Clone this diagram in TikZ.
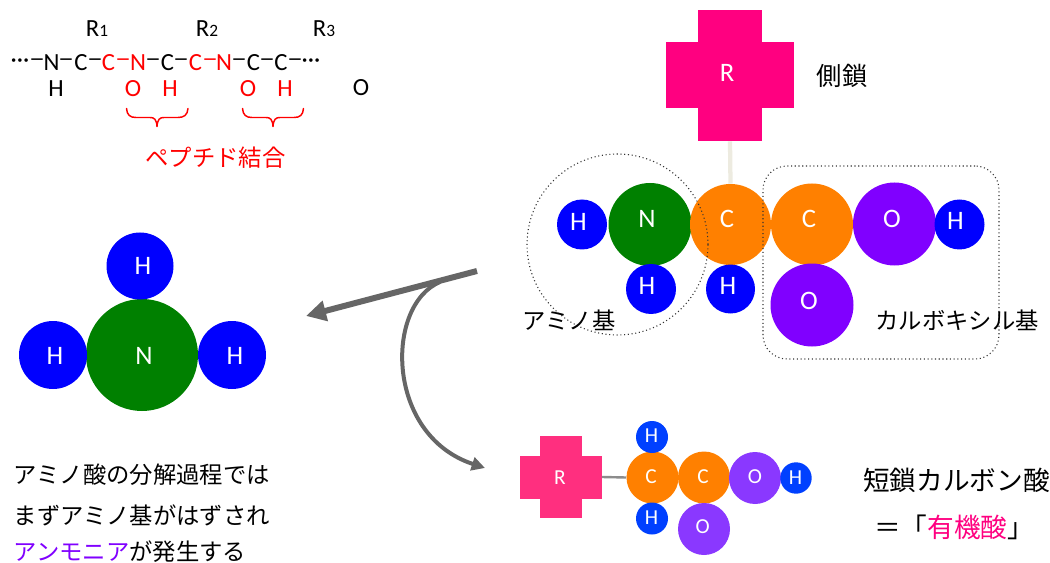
\documentclass[tikz,border=0pt]{standalone}
\usepackage{fontspec}
\usepackage{graphicx}
\setmainfont{Carlito}
\newfontfamily\cjk{Noto Sans CJK JP}
\usetikzlibrary{arrows.meta}
\definecolor{cmag}{HTML}{FF0080}
\definecolor{cmagb}{HTML}{FF2F7F}
\definecolor{corg}{HTML}{FF8000}
\definecolor{cgrn}{HTML}{008000}
\definecolor{cblu}{HTML}{0000FF}
\definecolor{cblub}{HTML}{0040FF}
\definecolor{cpur}{HTML}{8000FF}
\definecolor{cpurb}{HTML}{8A38FF}
\definecolor{cstem}{HTML}{EDEBE0}
\definecolor{carrow}{HTML}{666666}
\newcommand\fsz[1]{\fontsize{#1pt}{#1pt}\selectfont}
\newcommand\atom[8]{%
  \node[atomdisc,fill=#5,minimum size=1.5*#4 pt] (#1) at (#2,#3) {};
  \node[atomlabel] (#1t) at (#6,#7) {#8};}
\newcommand\lng{\makebox[5pt][c]{\raisebox{-0.6pt}{\scalebox{1.3}[1]{–}}}}
\tikzset{
  atomdisc/.style={circle,inner sep=0pt,draw=none},
  atomlabel/.style={inner sep=0pt,text=white,font=\fsz{20}},
  plain/.style={inner sep=0pt,text=black,font=\fsz{18.5}},
  redtxt/.style={plain,text=red},
  jtxt/.style={inner sep=0pt,text=black,font=\cjk\fsz{17.5}},
  dotline/.style={draw=black!80,line width=0.8pt,dotted},
  brace/.style={draw=red,line width=1.1pt,line cap=round,line join=round},
}
\begin{document}
\begin{tikzpicture}[x=0.75pt,y=-0.75pt]
\useasboundingbox (0,0) rectangle (1050,563);
% peptide chain
\foreach \n/\x/\c/\s in {a/20/black/···,b/37/black/\lng,c/51.5/black/N,d/66/black/\lng,e/81/black/C,f/95/black/\lng,g/108.5/red/C,h/123/red/\lng,i/138/red/N,j/153/black/\lng,k/167.5/black/C,l/181/black/\lng,m/195.5/red/C,o/210/red/\lng,p/224/red/N,q/239/black/\lng,r/253.5/black/C,s/267/black/\lng,t/281/black/C,u/295/black/\lng,v/311/black/···}{
  \node[plain,text=\c] (ch\n) at (\x,63) {\s};
}
\node[plain] (r1) at (97,28.5) {R{\fsz{13}1}};
\node[plain] (r2) at (207,28.5) {R{\fsz{13}2}};
\node[plain] (r3) at (324,28.5) {R{\fsz{13}3}};
\node[plain] (h0) at (56,89) {H};
\node[redtxt] (o1) at (133,89) {O};
\node[redtxt] (h1) at (170,89) {H};
\node[redtxt] (o2) at (248,89) {O};
\node[redtxt] (h2) at (285,89) {H};
\node[plain] (o3) at (361,88) {O};
% braces
\draw[brace] (126.5,108.5) .. controls (127,115) and (130,117.5) .. (136,117.5) -- (150,117.5) .. controls (154,117.5) and (156.5,119) .. (157,126.5) .. controls (157.5,119) and (160,117.5) .. (164,117.5) -- (178,117.5) .. controls (184,117.5) and (187.5,115) .. (188,108.5);
\draw[brace] (242.5,108.5) .. controls (243,115) and (246,117.5) .. (252,117.5) -- (266,117.5) .. controls (270,117.5) and (272.5,119) .. (273,126.5) .. controls (273.5,119) and (276,117.5) .. (280,117.5) -- (294,117.5) .. controls (300,117.5) and (303,115) .. (303.5,108.5);
\node[jtxt,text=red] (pep) at (215.5,158) {ペプチド結合};
% big molecule
\node[fill=cmag,inner sep=0pt,minimum width=48pt,minimum height=98.5pt] (rv) at (730,75.5) {};
\node[fill=cmag,inner sep=0pt,minimum width=96pt,minimum height=49.5pt] (rh) at (730,75) {};
\node[atomlabel] (rt) at (727,73) {R};
\node[jtxt,font=\cjk\fsz{19}] (sc) at (842,76) {側鎖};
\atom{ha}{582}{224.5}{25}{cblu}{578.5}{222}{H}
\atom{na}{650}{224.5}{41.5}{cgrn}{647}{219}{N}
\atom{ca}{730.5}{224.5}{40.5}{corg}{727}{219}{C}
\atom{cb}{812}{224.5}{41}{corg}{809}{219}{C}
\atom{oa}{894.5}{224}{41.5}{cpur}{892}{219}{O}
\atom{hb}{959.5}{224.5}{25}{cblu}{955.5}{221}{H}
\atom{hc}{651}{289}{25}{cblu}{647}{286}{H}
\atom{hd}{730.5}{289}{24.5}{cblu}{728}{286}{H}
\atom{ob}{812}{305}{41.5}{cpur}{809}{301}{O}
\draw[cstem,line width=3.2pt] (rv.south) -- (ca.north);
\node[dotline,circle,inner sep=0pt,minimum size=135.75pt] (amino) at (617.5,244.5) {};
\node[dotline,rectangle,rounded corners=18pt,inner sep=0pt,minimum width=177pt,minimum height=144.75pt] (carb) at (881,262.5) {};
\node[jtxt] (aml) at (569,320) {アミノ基};
\node[jtxt] (cbl) at (957,320) {カルボキシル基};
% ammonia
\atom{nh}{142}{355}{56}{cgrn}{144}{356}{N}
\atom{ht}{140}{266}{33.5}{cblu}{143}{266}{H}
\atom{hl}{53}{355}{34}{cblu}{55}{356}{H}
\atom{hr}{232}{355}{34}{cblu}{235}{356}{H}
% arrows
\coordinate (as) at (477,271);
\coordinate (ae) at (306,316);
\coordinate (bs) at (440,282);
\coordinate (be) at (485,468);
\draw[carrow,line width=4.5pt,-{Triangle[length=15pt,width=15pt]}] (as) -- (ae);
\draw[carrow,line width=3pt,-{Triangle[length=10pt,width=10pt]}] (bs) .. controls (385,305) and (385,435) .. (be);
% small molecule
\node[fill=cmagb,inner sep=0pt,minimum width=31pt,minimum height=61.5pt] (sv) at (561,477) {};
\node[fill=cmagb,inner sep=0pt,minimum width=61pt,minimum height=32.25pt] (sh) at (561,477) {};
\begin{scope}[atomlabel/.append style={font=\fsz{16}}]
\node[atomlabel] (st) at (560,477.5) {R};
\atom{sc1}{652.5}{477.5}{26}{corg}{651}{476.5}{C}
\atom{sc2}{704}{477.5}{26}{corg}{703}{476.5}{C}
\atom{so1}{755}{478}{26}{cpurb}{755}{476.5}{O}
\atom{sh1}{796}{478}{15.7}{cblub}{795.5}{477.5}{H}
\atom{sh2}{652}{437}{16}{cblub}{651.5}{436}{H}
\atom{sh3}{652}{518.5}{16}{cblub}{651.5}{517.5}{H}
\atom{so2}{704}{529}{26}{cpurb}{702.7}{527}{O}
\end{scope}
\draw[gray!90,line width=1.8pt] (sh.east) -- (sc1.west);
% right text
\node[jtxt,font=\cjk\fsz{20}] (t1) at (956.5,480) {短鎖カルボン酸};
\node[jtxt,font=\cjk\fsz{20}] (t2) at (954,527) {＝「{\color{cmag}有機酸}」};
% left text
\node[jtxt,anchor=west] (l1) at (13.5,475) {アミノ酸の分解過程では};
\node[jtxt,anchor=west] (l2) at (13.5,515) {まずアミノ基がはずされ};
\node[jtxt,anchor=west] (l3) at (13.5,551.5) {{\color{cpur}アンモニア}が発生する};
\end{tikzpicture}
\end{document}
